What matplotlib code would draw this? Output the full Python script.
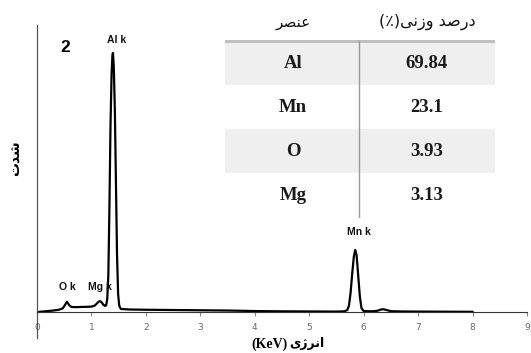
import matplotlib
matplotlib.use("Agg")
import matplotlib.pyplot as plt
from matplotlib.patches import Rectangle

# EDS spectrum (energy in keV, intensity relative to Al peak = 100)
energy = [0.0, 0.1, 0.2, 0.3, 0.4, 0.47, 0.51, 0.55, 0.59, 0.63, 0.7, 0.85, 1.0,
          1.06, 1.10, 1.13, 1.16, 1.19, 1.22, 1.25, 1.27,
          1.29, 1.31, 1.33, 1.35, 1.37, 1.385, 1.395, 1.41, 1.43, 1.45, 1.47, 1.49, 1.51, 1.54,
          1.7, 2.0, 2.5, 3.0, 3.5, 4.0, 4.5, 5.0, 5.5, 5.65,
          5.70, 5.73, 5.76, 5.79, 5.82, 5.845, 5.87, 5.90, 5.93, 5.96, 6.0,
          6.15, 6.25, 6.32, 6.36, 6.42, 6.5, 6.7, 7.0, 7.5, 8.0]
intensity = [0.0, 0.2, 0.4, 0.6, 0.9, 1.4, 2.6, 4.0, 2.7, 2.0, 1.9, 2.0, 2.1,
             2.5, 3.3, 4.0, 4.2, 3.7, 2.8, 2.4, 2.6,
             5.0, 14.0, 40.0, 72.0, 92.0, 99.0, 100.0, 95.0, 78.0, 50.0, 22.0, 7.0, 2.5, 1.2,
             1.0, 0.9, 0.8, 0.7, 0.6, 0.4, 0.3, 0.25, 0.2, 0.3,
             0.8, 2.5, 7.5, 15.0, 21.5, 24.0, 22.0, 14.0, 6.0, 1.5, 0.4,
             0.3, 0.5, 1.0, 1.1, 0.8, 0.35, 0.25, 0.2, 0.15, 0.1]

peak_names = ["O k", "Mg k", "Al k", "Mn k"]
peak_energy = [0.55, 1.16, 1.47, 5.92]
peak_label_y = [9.6, 9.6, 105.0, 31.0]

# composition table (element, weight %)
elements = ["Al", "Mn", "O", "Mg"]
weight_pct = ["69.84", "23.1", "3.93", "3.13"]

# Persian text, written in visual order with presentation forms
hdr_element = "\uFEAE\uFEBC\uFEE8\uFECB"                                   # عنصر
hdr_weight = "(\u066A)\uFBFD\uFEE7\uFEAF\uFEED \uFEAA\uFEBB\uFEAD\uFEA9"     # درصد وزنی(٪)
ylabel_fa = "\uFE95\uFEAA\uFEB7"                                             # شدت
xlabel_fa = "\uFBFC\uFB8A\uFEAE\uFEE7\uFE8D"                                 # انرژی

W, H = 531, 353
fig = plt.figure(figsize=(W / 100, H / 100), dpi=100)

# main spectrum axes
ax = fig.add_axes([37 / W, (H - 338) / H, 490 / W, 313 / H])
ax.plot(energy, intensity, color="black", lw=1.6, solid_joinstyle="round")
ax.set_xlim(0, 9)
ax.set_ylim(-10, 110.8)
ax.spines["top"].set_visible(False)
ax.spines["right"].set_visible(False)
ax.spines["bottom"].set_position(("data", 0))
ax.spines["bottom"].set_color("#333333")
ax.spines["left"].set_color("#555555")
ax.spines["left"].set_linewidth(0.9)
ax.set_xticks(range(10))
ax.tick_params(axis="x", direction="out", length=3, width=0.8, colors="#888888",
               labelsize=6.5, pad=5)
ax.tick_params(axis="x", labelcolor="#666666")
ax.set_yticks([])
ax.patch.set_alpha(0)

for name, e, y in zip(peak_names, peak_energy, peak_label_y):
    ax.text(e, y, name, ha="center", va="center", fontsize=7.5, fontweight="bold",
            family="Liberation Sans", color="#111111")

fig.text(65 / W, 1 - 47 / H, "2", ha="center", va="center", fontsize=12.5,
         fontweight="bold", family="Liberation Sans")

# axis labels
fig.text(16 / W, 1 - 158 / H, ylabel_fa, rotation=90, ha="center", va="center",
         fontsize=10, fontweight="bold", family=["DejaVu Sans"])
fig.text(270 / W, 1 - 344 / H, "(KeV)", ha="center", va="center", fontsize=10,
         fontweight="bold", family="Liberation Serif")
fig.text(307 / W, 1 - 343 / H, xlabel_fa, ha="center", va="center", fontsize=9,
         fontweight="bold", family=["DejaVu Sans"])

# table drawn in pixel coordinates
tx = fig.add_axes([225 / W, (H - 220) / H, 270 / W, 220 / H])
tx.set_xlim(225, 495)
tx.set_ylim(220, 0)
tx.axis("off")
row_top = 41
row_h = 44
for i, (el, val) in enumerate(zip(elements, weight_pct)):
    y0 = row_top + i * row_h
    if i % 2 == 0:
        tx.add_patch(Rectangle((225, y0), 270, row_h, color="#efefef", lw=0, zorder=0))
    yc = y0 + row_h / 2
    tx.text(293, yc, el, ha="center", va="center", fontsize=13.5, fontweight="bold",
            family="Liberation Serif", color="#1a1a1a")
    tx.text(427, yc, val, ha="center", va="center", fontsize=13.5, fontweight="bold",
            family="Liberation Serif", color="#1a1a1a")
tx.plot([225, 495], [row_top, row_top], color="#bbbbbb", lw=2)
tx.plot([359, 359], [row_top, 217], color="#999999", lw=1)
tx.text(293, 22, hdr_element, ha="center", va="center", fontsize=11,
        family=["DejaVu Sans"], color="#111111")
tx.text(427, 22, hdr_weight, ha="center", va="center", fontsize=11.5,
        family=["DejaVu Sans"], color="#111111")

fig.savefig("out.png", dpi=100)
